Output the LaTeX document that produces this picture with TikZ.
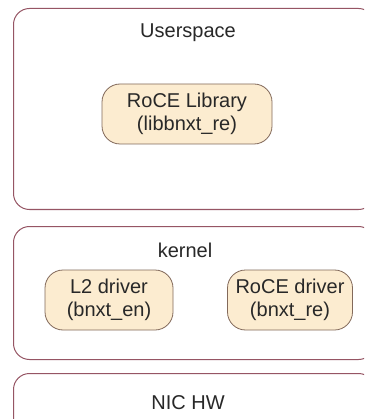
\documentclass[tikz,border=0pt]{standalone}
\usepackage{fontspec}
\setmainfont{Liberation Sans}
\usetikzlibrary{positioning}
\definecolor{layerline}{RGB}{150,85,100}
\definecolor{modline}{RGB}{130,105,90}
\definecolor{modfill}{RGB}{252,236,208}
\definecolor{txtgray}{RGB}{40,40,40}

\tikzset{
  layer/.style={draw=layerline, line width=1pt, rounded corners=16pt, anchor=north west, inner sep=0pt},
  module/.style={draw=modline, fill=modfill, line width=0.8pt, rounded corners=18pt, align=center,
    minimum height=60pt, inner sep=2pt, font=\fontsize{20}{23}\selectfont, text=txtgray},
  title/.style={font=\fontsize{20}{24}\selectfont, text=txtgray}
}

\begin{document}
\begin{tikzpicture}[x=1pt,y=-1pt]
    \clip (0,0) rectangle (364,419);
    \fill[white] (0,0) rectangle (364,419);

    % Userspace layer
    \node[layer, minimum width=361pt, minimum height=201pt] (user) at (13,8) {};
    \node[title] (usertitle) at (188,33) {Userspace};
    \node[module, minimum width=170pt] (roce-lib) at (187,114) {RoCE Library\\(libbnxt\_re)};

    % Kernel layer
    \node[layer, minimum width=361pt, minimum height=133pt] (kernel) at (13,226) {};
    \node[title] (kerneltitle) at (185,250) {kernel};
    \node[module, minimum width=128pt] (l2-drv) at (109,300) {L2 driver\\(bnxt\_en)};
    \node[module, minimum width=125pt] (roce-drv) at (290,300) {RoCE driver\\(bnxt\_re)};

    % Hardware layer
    \node[layer, minimum width=361pt, minimum height=60pt] (nic) at (13,373) {};
    \node[title] (nictitle) at (188,403) {NIC HW};
\end{tikzpicture}
\end{document}
